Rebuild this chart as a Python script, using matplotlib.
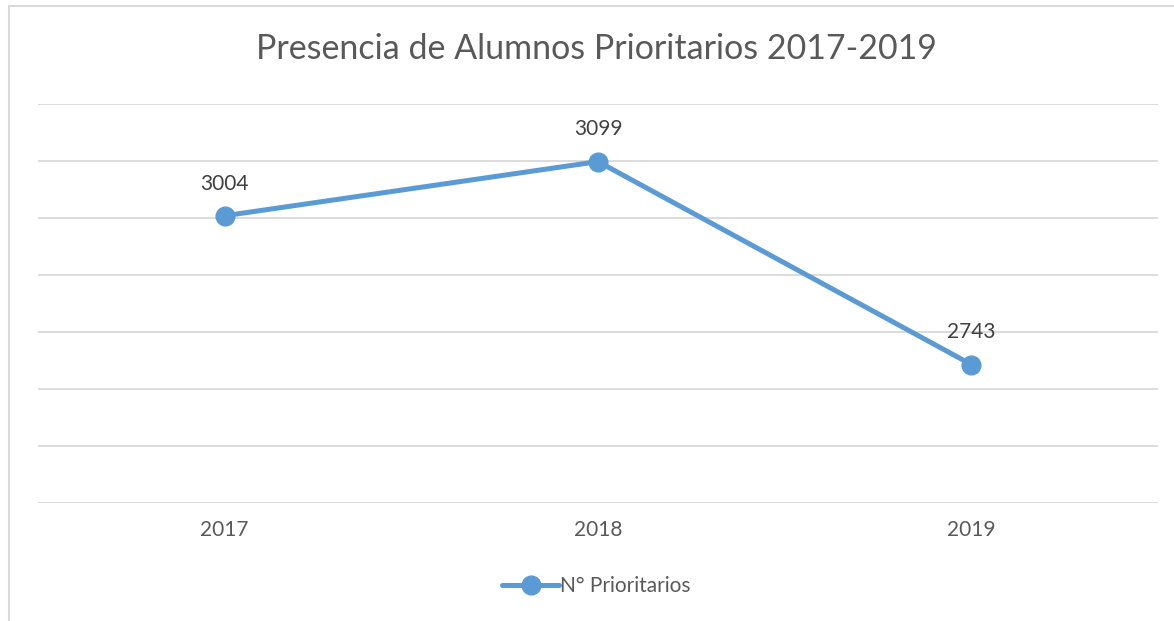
import matplotlib.pyplot as plt
from matplotlib.patches import Rectangle

years = ['2017', '2018', '2019']
prioritarios = [3004, 3099, 2743]
series_name = 'N° Prioritarios'
title = 'Presencia de Alumnos Prioritarios 2017-2019'

plt.rcParams['font.family'] = ['Lato', 'DejaVu Sans']
text_color = '#595959'
line_color = '#5B9BD5'

fig = plt.figure(figsize=(11.74, 6.21), dpi=100)
ax = fig.add_axes([0.0324, 0.19, 0.954, 0.6425])

x = range(len(years))
ax.plot(x, prioritarios, color=line_color, lw=3.6, marker='o', ms=13.5,
        label=series_name, zorder=3, solid_capstyle='round')
for xi, v in zip(x, prioritarios):
    ax.annotate(str(v), (xi, v), xytext=(0, 16), textcoords='offset points',
                ha='center', va='bottom', fontsize=15, color='#404040')

ax.set_xlim(-0.5, 2.5)
ax.set_ylim(2500, 3200)
ax.set_yticks(range(2500, 3201, 100))
ax.set_yticklabels([])
ax.tick_params(axis='y', length=0)
ax.set_xticks(list(x))
ax.set_xticklabels(years, fontsize=15, color=text_color)
ax.tick_params(axis='x', length=0, pad=12)
ax.grid(axis='y', color='#D9D9D9', lw=1.3)
ax.set_axisbelow(True)
for s in ax.spines.values():
    s.set_visible(False)

fig.text(0.508, 0.921, title, ha='center', va='center', fontsize=24.5, color=text_color)

leg = fig.legend(loc='center', bbox_to_anchor=(0.508, 0.056), frameon=False,
                 fontsize=15, handlelength=2.7, handletextpad=0.05)
for t in leg.get_texts():
    t.set_color(text_color)

# outer chart frame
fig.patches.append(Rectangle((8.5 / 1174, -0.05), 1.1, 1 - 5.5 / 621 + 0.05,
                             transform=fig.transFigure, fill=False,
                             edgecolor='#D9D9D9', lw=1.5))

fig.savefig('out.png', dpi=100)
